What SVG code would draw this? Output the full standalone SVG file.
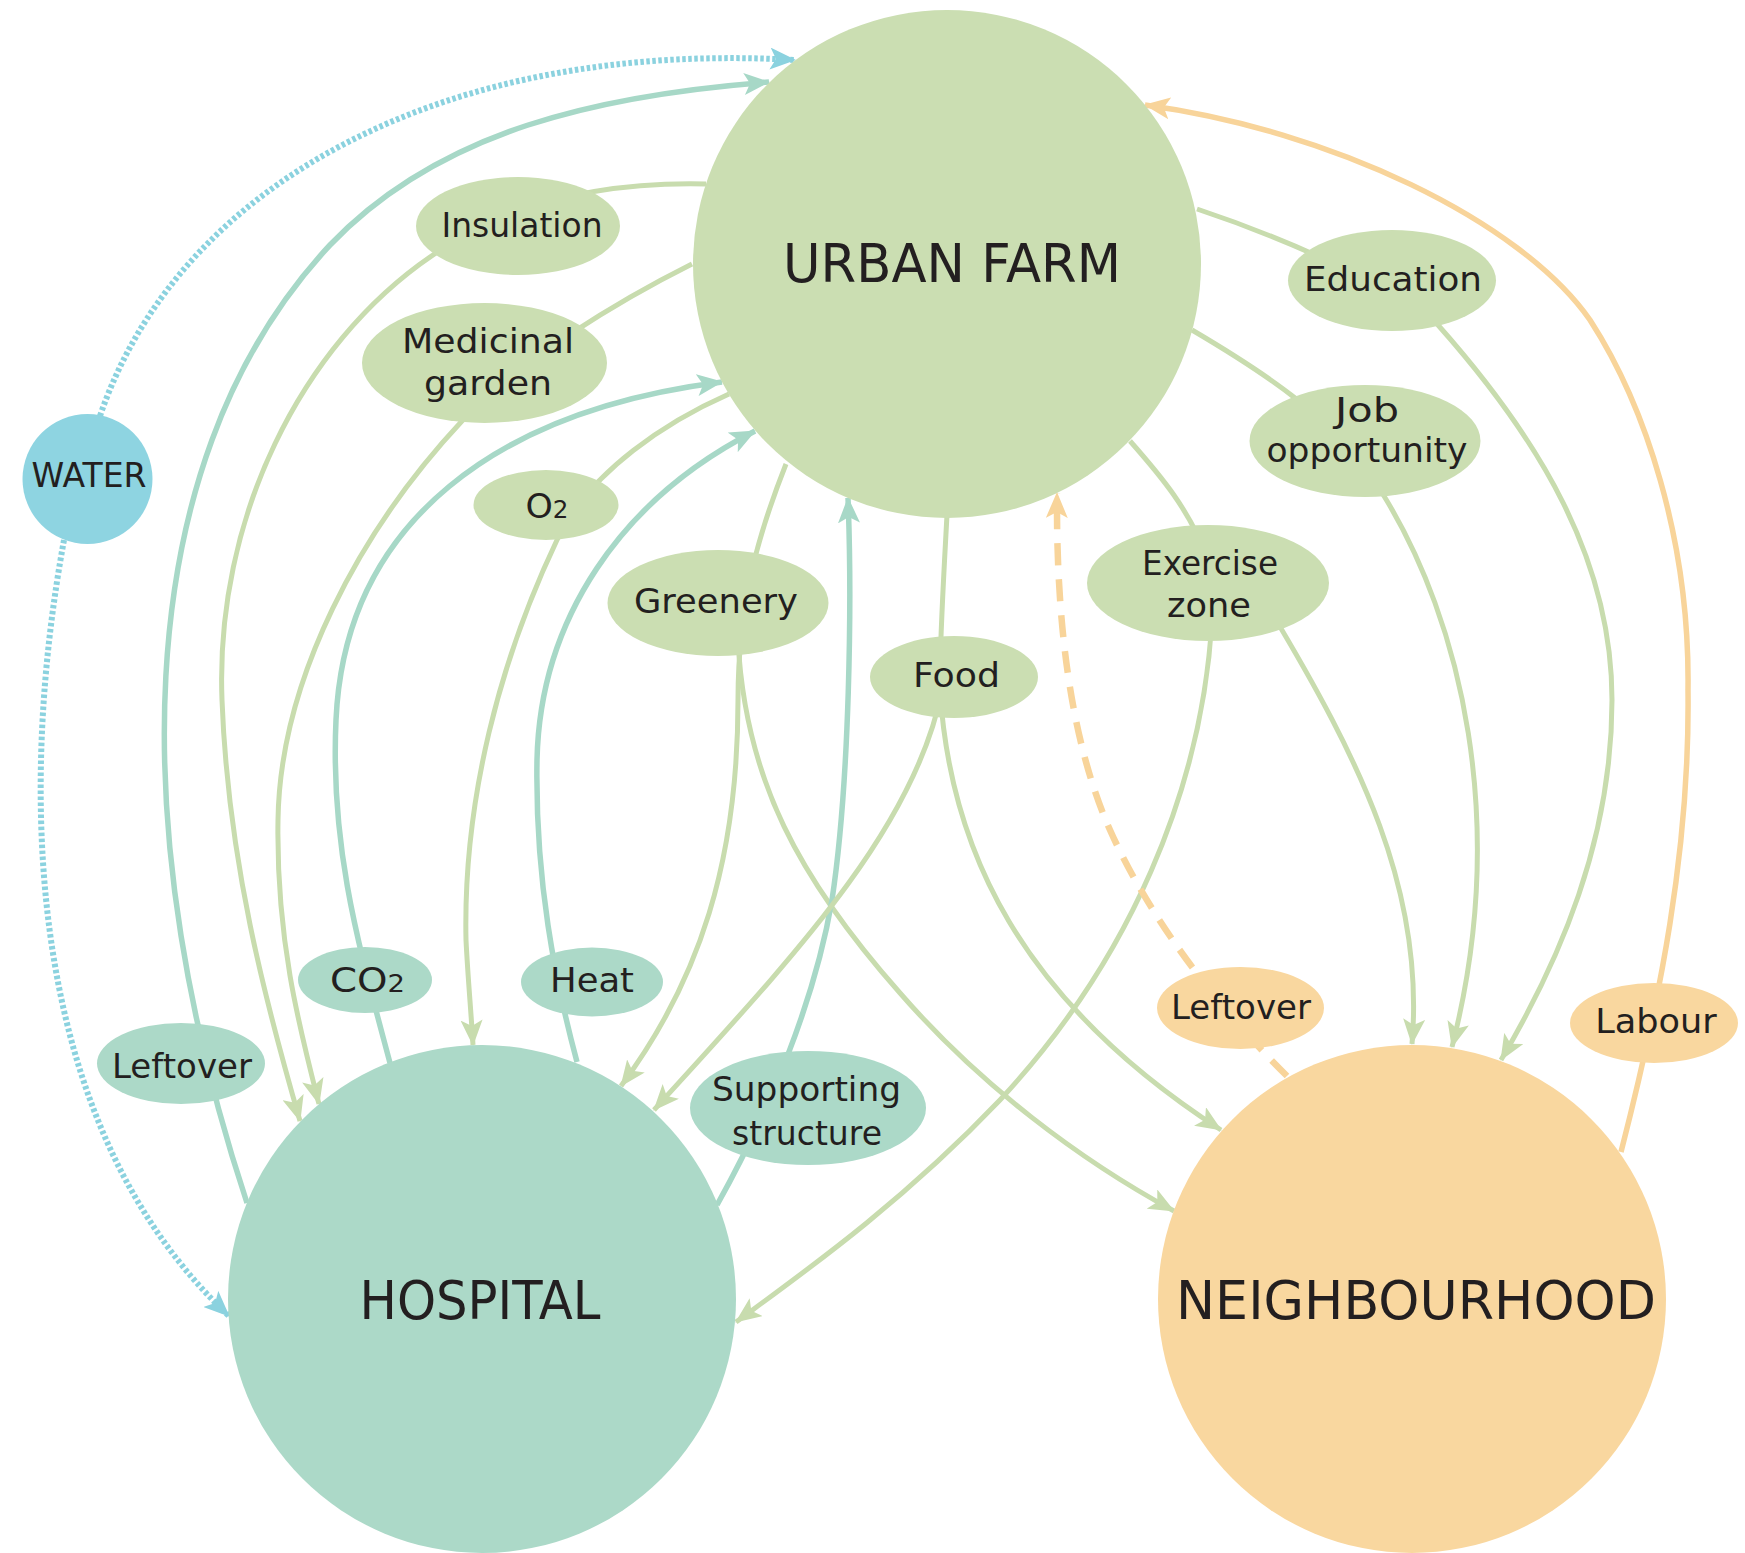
<svg xmlns="http://www.w3.org/2000/svg" width="1745" height="1553" viewBox="0 0 1745 1553">
<style>
.c{fill:none;stroke-linecap:butt}
.lg{stroke:#c8dcae;stroke-width:5}
.lt{stroke:#a7d8c7;stroke-width:5.5}
.lo{stroke:#f8d49a;stroke-width:5.5}
.lb{stroke:#8bd2df;stroke-width:6;stroke-dasharray:3.5 2.5}
.ld{stroke:#f8d49a;stroke-width:6.5;stroke-dasharray:22 14}
.fg{fill:#cbdeb2}
.ft{fill:#acd9c8}
.fo{fill:#f9d79f}
.fw{fill:#8ed4e1}
text{font-family:"DejaVu Sans","Liberation Sans",sans-serif;fill:#231f20;text-anchor:middle}
.big{font-size:54px}
.sm{font-size:34px}
</style>
<defs>
<marker id="ag" viewBox="0 0 26 22" refX="25" refY="11" markerWidth="26" markerHeight="22" markerUnits="userSpaceOnUse" orient="auto"><path d="M0,0 L26,11 L0,22 L6,11 Z" fill="#c8dcae"/></marker>
<marker id="at" viewBox="0 0 26 22" refX="25" refY="11" markerWidth="26" markerHeight="22" markerUnits="userSpaceOnUse" orient="auto"><path d="M0,0 L26,11 L0,22 L6,11 Z" fill="#a7d8c7"/></marker>
<marker id="ao" viewBox="0 0 26 22" refX="25" refY="11" markerWidth="26" markerHeight="22" markerUnits="userSpaceOnUse" orient="auto"><path d="M0,0 L26,11 L0,22 L6,11 Z" fill="#f8d49a"/></marker>
<marker id="ab" viewBox="0 0 26 22" refX="25" refY="11" markerWidth="26" markerHeight="22" markerUnits="userSpaceOnUse" orient="auto"><path d="M0,0 L26,11 L0,22 L6,11 Z" fill="#8bd2df"/></marker>
</defs>

<g id="connectors">
<path class="c lb" d="M100 416 C180 180 450 40 795 60" marker-end="url(#ab)"/>
<path class="c lb" d="M64 540 C20 780 20 1120 229 1316" marker-end="url(#ab)"/>
<path class="c lt" d="M247 1203 C130 850 120 470 330 245 C440 130 600 95 769 82" marker-end="url(#at)"/>
<path class="c lg" d="M706 184 C620 182 520 195 433 255 C300 345 215 520 222 700 C228 860 265 1000 300 1121" marker-end="url(#ag)"/>
<path class="c lg" d="M692 264 C620 300 520 360 462 421 C360 530 280 680 278 820 C276 940 300 1030 319 1104" marker-end="url(#ag)"/>
<path class="c lt" d="M390 1063 C360 950 330 850 336 720 C345 520 500 410 722 382" marker-end="url(#at)"/>
<path class="c lg" d="M729 394 C670 420 590 470 557 540 C500 660 463 800 466 940 C468 980 471 1010 473 1045" marker-end="url(#ag)"/>
<path class="c lt" d="M577 1062 C555 980 535 880 537 760 C540 620 620 500 755 431" marker-end="url(#at)"/>
<path class="c lg" d="M786 464 C760 530 738 600 738 700 C738 860 700 980 621 1086" marker-end="url(#ag)"/>
<path class="c lg" d="M738 640 C745 780 800 880 900 993 C980 1085 1080 1160 1174 1211" marker-end="url(#ag)"/>
<path class="c lt" d="M717 1205 C770 1110 815 1000 832 900 C850 780 852 600 848 498" marker-end="url(#at)"/>
<path class="c lg" d="M947 515 C944 570 941 620 940 670"/>
<path class="c lg" d="M942 690 C915 830 790 960 654 1110" marker-end="url(#ag)"/>
<path class="c lg" d="M940 690 C950 850 1020 1000 1221 1130" marker-end="url(#ag)"/>
<path class="c lg" d="M1130 441 C1160 475 1190 510 1208 560"/>
<path class="c lg" d="M1212 620 C1202 790 1130 960 1000 1100 C900 1205 800 1275 736 1322" marker-end="url(#ag)"/>
<path class="c lg" d="M1270 610 C1360 760 1425 890 1412 1044" marker-end="url(#ag)"/>
<path class="c lg" d="M1192 330 C1260 370 1340 420 1384 496 C1460 620 1510 820 1452 1047" marker-end="url(#ag)"/>
<path class="c lg" d="M1197 209 C1290 240 1400 290 1438 325 C1540 440 1612 560 1612 700 C1612 840 1560 960 1501 1060" marker-end="url(#ag)"/>
<path class="c lo" d="M1621 1152 C1660 1000 1690 850 1688 690 C1690 540 1645 405 1590 320 C1520 220 1330 130 1145 105" marker-end="url(#ao)"/>
<path class="c ld" d="M1287 1076 C1220 1010 1150 920 1110 830 C1070 740 1056 620 1057 493" marker-end="url(#ao)"/>
</g>

<g id="urban-farm"><circle class="fg" cx="947" cy="264" r="254"/><text class="big" x="952" y="282" textLength="338" lengthAdjust="spacingAndGlyphs">URBAN FARM</text></g>
<g id="hospital"><circle class="ft" cx="482" cy="1299" r="254"/><text class="big" x="480" y="1319" textLength="241" lengthAdjust="spacingAndGlyphs">HOSPITAL</text></g>
<g id="neighbourhood"><circle class="fo" cx="1412" cy="1299" r="254"/><text class="big" x="1416" y="1319" textLength="480" lengthAdjust="spacingAndGlyphs">NEIGHBOURHOOD</text></g>
<g id="water"><circle class="fw" cx="87.5" cy="479" r="65"/><text class="sm" x="89" y="487" textLength="115" lengthAdjust="spacingAndGlyphs">WATER</text></g>

<g id="insulation"><ellipse class="fg" cx="518" cy="226" rx="102" ry="49"/><text class="sm" x="522" y="237" textLength="161" lengthAdjust="spacingAndGlyphs">Insulation</text></g>
<g id="medicinal-garden"><ellipse class="fg" cx="484.5" cy="363" rx="122.5" ry="60"/><text class="sm" x="488" y="353" textLength="172" lengthAdjust="spacingAndGlyphs">Medicinal</text><text class="sm" x="488" y="394.5" textLength="128" lengthAdjust="spacingAndGlyphs">garden</text></g>
<g id="o2"><ellipse class="fg" cx="546" cy="505" rx="72.5" ry="35"/><text class="sm" x="547" y="517.5" textLength="43" lengthAdjust="spacingAndGlyphs">O<tspan font-size="24">2</tspan></text></g>
<g id="greenery"><ellipse class="fg" cx="718" cy="603" rx="110.5" ry="53"/><text class="sm" x="716" y="613" textLength="164" lengthAdjust="spacingAndGlyphs">Greenery</text></g>
<g id="food"><ellipse class="fg" cx="954" cy="677" rx="84" ry="41"/><text class="sm" x="956.5" y="687" textLength="87" lengthAdjust="spacingAndGlyphs">Food</text></g>
<g id="exercise-zone"><ellipse class="fg" cx="1208" cy="583" rx="121" ry="58"/><text class="sm" x="1210" y="575" textLength="136" lengthAdjust="spacingAndGlyphs">Exercise</text><text class="sm" x="1209" y="616.5" textLength="84" lengthAdjust="spacingAndGlyphs">zone</text></g>
<g id="education"><ellipse class="fg" cx="1392" cy="280.5" rx="104" ry="50.5"/><text class="sm" x="1393" y="291" textLength="178" lengthAdjust="spacingAndGlyphs">Education</text></g>
<g id="job-opportunity"><ellipse class="fg" cx="1365" cy="441" rx="115.5" ry="56"/><text class="sm" x="1367" y="422" textLength="64" lengthAdjust="spacingAndGlyphs">Job</text><text class="sm" x="1367" y="462" textLength="201" lengthAdjust="spacingAndGlyphs">opportunity</text></g>
<g id="co2"><ellipse class="ft" cx="365" cy="980" rx="67" ry="33"/><text class="sm" x="367.5" y="992" textLength="75" lengthAdjust="spacingAndGlyphs">CO<tspan font-size="24">2</tspan></text></g>
<g id="heat"><ellipse class="ft" cx="592" cy="982" rx="71" ry="34.5"/><text class="sm" x="592" y="992" textLength="84" lengthAdjust="spacingAndGlyphs">Heat</text></g>
<g id="leftover-hospital"><ellipse class="ft" cx="181" cy="1063.5" rx="84" ry="40.5"/><text class="sm" x="182" y="1077.5" textLength="140" lengthAdjust="spacingAndGlyphs">Leftover</text></g>
<g id="supporting-structure"><ellipse class="ft" cx="808" cy="1108" rx="118" ry="57"/><text class="sm" x="806.5" y="1101" textLength="189" lengthAdjust="spacingAndGlyphs">Supporting</text><text class="sm" x="807" y="1144.5" textLength="150" lengthAdjust="spacingAndGlyphs">structure</text></g>
<g id="leftover-neighbourhood"><ellipse class="fo" cx="1240.5" cy="1008" rx="83.5" ry="41"/><text class="sm" x="1241" y="1018.5" textLength="140" lengthAdjust="spacingAndGlyphs">Leftover</text></g>
<g id="labour"><ellipse class="fo" cx="1654" cy="1023" rx="84" ry="40"/><text class="sm" x="1656" y="1032.5" textLength="121.5" lengthAdjust="spacingAndGlyphs">Labour</text></g>
</svg>
